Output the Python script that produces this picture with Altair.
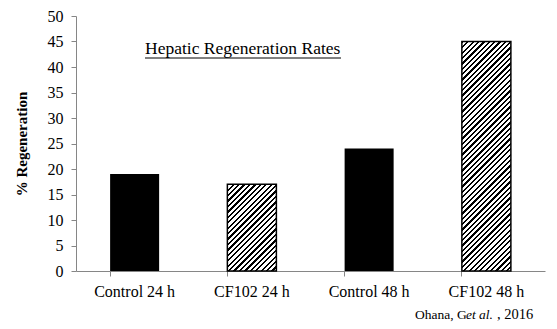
import altair as alt
import pandas as pd

categories = ["Control 24 h", "CF102 24 h", "Control 48 h", "CF102 48 h"]
values = [19, 17, 24, 45]
hatched = [False, True, False, True]

title_text = "Hepatic Regeneration Rates"
y_title = "% Regeneration"
source_parts = ["Ohana, G", "et al.", ", 2016"]

W, H = 469, 255
YMAX = 50
PAD_IN, PAD_OUT = 0.582, 0.291
FONT = "Liberation Serif"

df = pd.DataFrame({"cat": categories, "val": values, "hatch": hatched})

step = W / (len(categories) - PAD_IN + 2 * PAD_OUT)
bar_w = step * (1 - PAD_IN)


def hatch_fill(value, period=5.4, black=0.42):
    h = value / YMAX * H
    w = bar_w
    n = max(1, round((w + h) / period))
    stops = []
    for i in range(n):
        a = i / n
        b = (i + black) / n
        c = (i + 1) / n
        stops += [
            {"offset": a, "color": "#000000"},
            {"offset": b, "color": "#000000"},
            {"offset": b, "color": "#ffffff"},
            {"offset": c, "color": "#ffffff"},
        ]
    k = (w + h) / (w * w + h * h)
    return {"gradient": "linear", "x1": 0, "y1": 0, "x2": w * k, "y2": h * k, "stops": stops}


x_enc = alt.X(
    "cat:N",
    sort=categories,
    scale=alt.Scale(paddingInner=PAD_IN, paddingOuter=PAD_OUT),
    axis=alt.Axis(
        title=None,
        labelAngle=0,
        labelFont=FONT,
        labelFontSize=16,
        labelColor="#000000",
        labelPadding=7,
        tickSize=5,
        tickColor="#868686",
        domainColor="#868686",
        bandPosition=0,
    ),
)
y_enc = alt.Y(
    "val:Q",
    scale=alt.Scale(domain=[0, YMAX], nice=False),
    axis=alt.Axis(
        values=list(range(0, 51, 5)),
        title=y_title,
        titleFont=FONT,
        titleFontSize=15,
        titleFontWeight="bold",
        titleColor="#000000",
        titleAngle=-90,
        titleX=-55,
        titleY=H / 2,
        titleAlign="center",
        titleBaseline="middle",
        labelFont=FONT,
        labelFontSize=16,
        labelColor="#000000",
        labelPadding=8,
        tickSize=5,
        tickColor="#868686",
        domainColor="#868686",
        grid=False,
    ),
)

base = alt.Chart(df)

solid = base.transform_filter("!datum.hatch").mark_bar(color="#000000").encode(x=x_enc, y=y_enc)

layers = [solid]
for cat, val, hz in zip(categories, values, hatched):
    if hz:
        layers.append(
            base.transform_filter(alt.datum.cat == cat)
            .mark_bar(fill=hatch_fill(val), stroke="#000000", strokeWidth=1.5)
            .encode(x=x_enc, y=y_enc)
        )

title_df = pd.DataFrame({"t": [title_text]})
title_mark = alt.Chart(title_df).mark_text(
    font=FONT, fontSize=17.5, align="left", baseline="alphabetic", color="#000000"
).encode(text="t:N", x=alt.value(69), y=alt.value(38))
underline = alt.Chart(title_df).mark_rule(color="#000000", strokeWidth=1).encode(
    x=alt.value(69), x2=alt.value(265), y=alt.value(42)
)

src_x = [339, 390, 421]
src_size = [13.5, 13.5, 14.5]
src_layers = []
for i, part in enumerate(source_parts):
    src_layers.append(
        alt.Chart(pd.DataFrame({"t": [part]})).mark_text(
            font=FONT, fontSize=src_size[i], align="left", baseline="alphabetic",
            color="#000000", fontStyle="italic" if i == 1 else "normal",
        ).encode(text="t:N", x=alt.value(src_x[i]), y=alt.value(303))
    )

chart = alt.layer(*layers, title_mark, underline, *src_layers).properties(
    width=W,
    height=H,
    autosize=alt.AutoSizeParams(type="none"),
    padding={"left": 76, "top": 16, "right": 12, "bottom": 58},
    background="#ffffff",
).configure_view(stroke=None)

chart.save("out.html", embed_options={"renderer": "svg", "actions": False})
